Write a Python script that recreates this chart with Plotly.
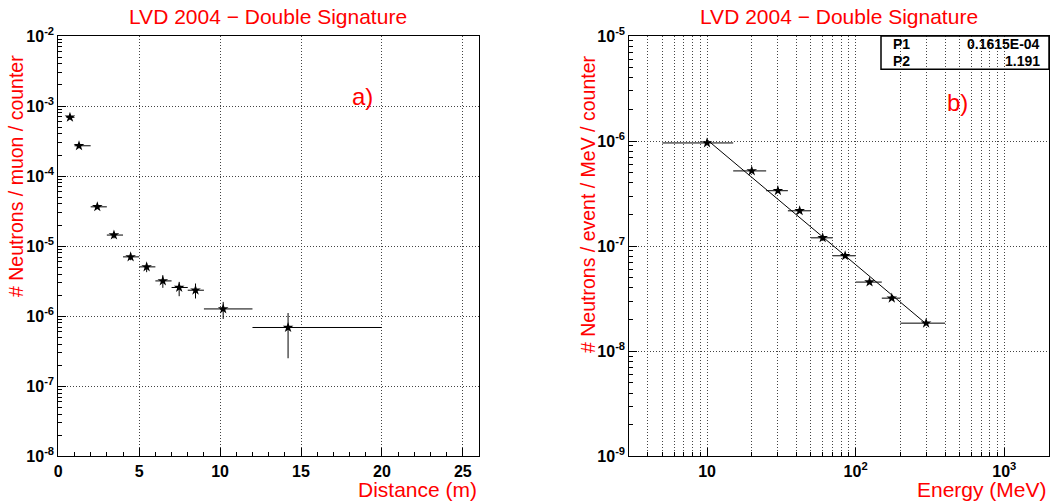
import plotly.graph_objects as go

W, H = 1053, 504

# ---------------- data: panel a) ----------------
distance = [0.72, 1.28, 2.41, 3.44, 4.47, 5.46, 6.46, 7.47, 8.48, 10.19, 14.2]
dist_lo = [0.5, 1.0, 2.0, 3.0, 4.0, 5.0, 6.0, 7.0, 8.0, 9.0, 12.0]
dist_hi = [1.0, 2.0, 3.0, 4.0, 5.0, 6.0, 7.0, 8.0, 9.0, 12.0, 20.0]
neut_muon = [6.9e-4, 2.71e-4, 3.64e-5, 1.44e-5, 7.03e-6, 5.06e-6, 3.19e-6, 2.57e-6, 2.35e-6, 1.27e-6, 6.9e-7]
neut_muon_hi = [7.1e-4, 2.79e-4, 3.80e-5, 1.60e-5, 7.9e-6, 5.71e-6, 3.85e-6, 3.09e-6, 2.93e-6, 1.60e-6, 1.11e-6]
neut_muon_lo = [6.7e-4, 2.63e-4, 3.48e-5, 1.29e-5, 6.3e-6, 4.25e-6, 2.54e-6, 1.93e-6, 1.79e-6, 9.14e-7, 2.51e-7]

# ---------------- data: panel b) ----------------
energy = [10, 20, 30, 42, 60, 85, 124, 175, 298]
energy_lo = [5, 15, 25, 35, 50, 70, 100, 150, 200]
energy_hi = [15, 25, 35, 50, 70, 100, 150, 200, 400]
neut_event = [9.6e-7, 5.2e-7, 3.37e-7, 2.17e-7, 1.2e-7, 8.1e-8, 4.55e-8, 3.2e-8, 1.85e-8]
fit_x = [10, 300]
fit_y = [1.03e-6, 1.81e-8]
fit_params = [("P1", "0.1615E-04"), ("P2", "1.191")]

xa_ticks = [0, 5, 10, 15, 20, 25]
ya_exps = [-8, -7, -6, -5, -4, -3, -2]
yb_exps = [-9, -8, -7, -6, -5]
xb_major = [10, 100, 1000]
xb_major_text = ["<b>10</b>", "<b>10<sup>2</sup></b>", "<b>10<sup>3</sup></b>"]

RED = "#ff0000"
FONT = "Liberation Sans"

def pxx(x):
    return x / W

def pyy(y):
    return 1 - y / H

fig = go.Figure()

err_style = dict(type="data", symmetric=False, color="black", thickness=1, width=0)
marker = dict(symbol="star", size=8, color="black")

fig.add_trace(go.Scatter(
    x=distance, y=neut_muon, mode="markers", marker=marker,
    error_x=dict(err_style, array=[h - x for h, x in zip(dist_hi, distance)],
                 arrayminus=[x - l for x, l in zip(distance, dist_lo)]),
    error_y=dict(err_style, array=[h - y for h, y in zip(neut_muon_hi, neut_muon)],
                 arrayminus=[y - l for y, l in zip(neut_muon, neut_muon_lo)]),
    xaxis="x", yaxis="y", showlegend=False, hoverinfo="x+y"))

fig.add_trace(go.Scatter(
    x=fit_x, y=fit_y, mode="lines", line=dict(color="black", width=1),
    xaxis="x2", yaxis="y2", showlegend=False))

fig.add_trace(go.Scatter(
    x=energy, y=neut_event, mode="markers", marker=marker,
    error_x=dict(err_style, array=[h - x for h, x in zip(energy_hi, energy)],
                 arrayminus=[x - l for x, l in zip(energy, energy_lo)]),
    xaxis="x2", yaxis="y2", showlegend=False, hoverinfo="x+y"))

GRIDC = "#444444"
DOTS = "1px,2px"
tickfont = dict(family=FONT, size=16, color="black", weight="bold")
grid = dict(showgrid=True, gridcolor=GRIDC, griddash=DOTS, gridwidth=1)
frame = dict(showline=True, linecolor="black", linewidth=1, mirror=True, zeroline=False,
             ticks="inside", tickcolor="black", tickwidth=1, automargin=False)

def log_minor(e0, e1):
    vals = []
    for e in range(e0, e1):
        for m in range(2, 10):
            vals.append(m * 10 ** e)
    return vals

def pow_label(e):
    return "<b>10<sup>-%d</sup></b>" % (-e)

ydom = [pyy(456.3), pyy(36)]

fig.update_layout(
    width=W, height=H, margin=dict(l=0, r=0, t=0, b=0, autoexpand=False),
    paper_bgcolor="white", plot_bgcolor="white",
    xaxis=dict(domain=[pxx(58.3), pxx(479)], range=[0, 26], anchor="y",
               tickmode="array", tickvals=xa_ticks, ticktext=["<b>%d</b>" % t for t in xa_ticks],
               ticklen=8, tickfont=tickfont, **grid, **frame,
               minor=dict(tickmode="array", tickvals=[v for v in range(1, 26) if v % 5],
                          ticks="inside", ticklen=4, tickcolor="black", showgrid=False)),
    yaxis=dict(domain=ydom, type="log", range=[-8, -2], anchor="x",
               tickmode="array", tickvals=[10 ** e for e in ya_exps],
               ticktext=[pow_label(e) for e in ya_exps],
               ticklen=8, tickfont=tickfont, **grid, **frame,
               minor=dict(tickmode="array", tickvals=log_minor(-8, -2),
                          ticks="inside", ticklen=4, tickcolor="black", showgrid=False)),
    xaxis2=dict(domain=[pxx(629.3), pxx(1049)], type="log", range=[0.4771, 3.301], anchor="y2",
                tickmode="array", tickvals=xb_major, ticktext=xb_major_text,
                ticklen=8, tickfont=tickfont, **grid, **frame,
                minor=dict(tickmode="array", tickvals=log_minor(0, 4),
                           ticks="inside", ticklen=4, tickcolor="black",
                           showgrid=True, gridcolor=GRIDC, griddash=DOTS, gridwidth=1)),
    yaxis2=dict(domain=ydom, type="log", range=[-9, -5], anchor="x2",
                tickmode="array", tickvals=[10 ** e for e in yb_exps],
                ticktext=[pow_label(e) for e in yb_exps],
                ticklen=8, tickfont=tickfont, **grid, **frame,
                minor=dict(tickmode="array", tickvals=log_minor(-9, -5),
                           ticks="inside", ticklen=4, tickcolor="black", showgrid=False)),
)

ann = []
title_font = dict(family=FONT, size=21, color=RED)
ann.append(dict(text="LVD 2004 − Double Signature", x=pxx(268), y=pyy(17), xref="paper", yref="paper",
                showarrow=False, font=title_font, xanchor="center", yanchor="middle"))
ann.append(dict(text="LVD 2004 − Double Signature", x=pxx(839), y=pyy(17), xref="paper", yref="paper",
                showarrow=False, font=title_font, xanchor="center", yanchor="middle"))
yaxis_font = dict(family=FONT, size=19.5, color=RED)
ann.append(dict(text="# Neutrons / muon / counter", x=pxx(16), y=pyy(176), xref="paper", yref="paper",
                showarrow=False, font=yaxis_font, textangle=-90, xanchor="center", yanchor="middle"))
ann.append(dict(text="# Neutrons / event / MeV / counter", x=pxx(588), y=pyy(205), xref="paper", yref="paper",
                showarrow=False, font=yaxis_font, textangle=-90, xanchor="center", yanchor="middle"))
xaxis_font = dict(family=FONT, size=21, color=RED)
ann.append(dict(text="Distance (m)", x=pxx(479), y=pyy(489), xref="paper", yref="paper",
                showarrow=False, font=xaxis_font, xanchor="right", yanchor="middle"))
ann.append(dict(text="Energy (MeV)", x=pxx(1049), y=pyy(489), xref="paper", yref="paper",
                showarrow=False, font=xaxis_font, xanchor="right", yanchor="middle"))
label_font = dict(family=FONT, size=24, color=RED)
ann.append(dict(text="a)", x=pxx(362), y=pyy(96), xref="paper", yref="paper",
                showarrow=False, font=label_font, xanchor="center", yanchor="middle"))
ann.append(dict(text="b)", x=pxx(957), y=pyy(103), xref="paper", yref="paper",
                showarrow=False, font=label_font, xanchor="center", yanchor="middle"))

stat_font = dict(family=FONT, size=14, color="black", weight="bold")
rows_y = [44, 61]
for (name, val), ry in zip(fit_params, rows_y):
    ann.append(dict(text=name, x=pxx(891), y=pyy(ry), xref="paper", yref="paper",
                    showarrow=False, font=stat_font, xanchor="left", yanchor="middle"))
    ann.append(dict(text=val, x=pxx(1042), y=pyy(ry), xref="paper", yref="paper",
                    showarrow=False, font=stat_font, xanchor="right", yanchor="middle"))

fig.update_layout(annotations=ann)
fig.add_shape(type="rect", xref="paper", yref="paper", x0=pxx(881), x1=pxx(1049),
              y0=pyy(69.3), y1=pyy(36), line=dict(color="black", width=1.5), fillcolor="rgba(0,0,0,0)")

fig.write_html("out.html", config={"displayModeBar": False},
               post_script="document.body.style.margin='0';document.body.style.overflow='hidden';")
